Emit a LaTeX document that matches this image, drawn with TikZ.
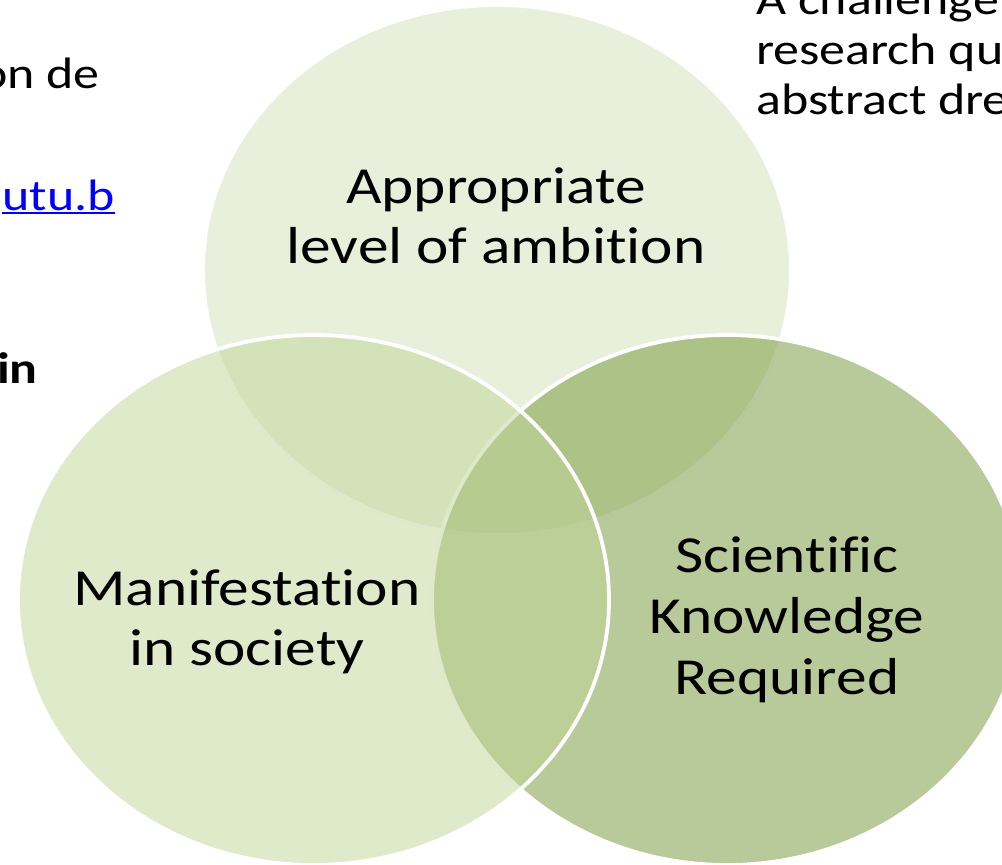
\documentclass[tikz,border=0pt]{standalone}
\usepackage{fontspec}
\setmainfont{Carlito}[FakeStretch=1.18, Ligatures={NoCommon}]
\definecolor{ctop}{RGB}{209,225,185}
\definecolor{cleft}{RGB}{191,213,151}
\definecolor{cright}{RGB}{113,149,51}
\definecolor{linkblue}{RGB}{0,0,255}
\begin{document}
\begin{tikzpicture}[x=1pt,y=-1pt,
  venn/.style={draw=white, line width=3.8pt, fill opacity=0.5, draw opacity=1},
  lbl/.style={inner sep=0pt, anchor=base, font=\fontsize{52}{60}\selectfont},
  side/.style={inner sep=0pt, font=\fontsize{44}{50}\selectfont}]
\useasboundingbox (0,0) rectangle (1002,865);
\clip (0,0) rectangle (1002,865);
% circles: top, right, left (drawing order)
\draw[venn, fill=ctop] (497,270) ellipse [x radius=294, y radius=265];
\draw[venn, fill=cright] (727,600) ellipse [x radius=295, y radius=265];
\draw[venn, fill=cleft] (313.5,600) ellipse [x radius=295.5, y radius=265];
% circle labels
\node[lbl] (top1) at (496,203) {Appropriate};
\node[lbl] (top2) at (496,263) {level of ambition};
\node[lbl] (left1) at (247,605) {Manifestation};
\node[lbl] (left2) at (247,665) {in society};
\node[lbl] (right1) at (787,572) {Scientific};
\node[lbl] (right2) at (787,633) {Knowledge};
\node[lbl] (right3) at (787,694) {Required};
% background texts, cut at the edges
\node[side, anchor=base east] (bg1) at (100,88) {ón de};
\node[side, anchor=base east, text=linkblue] (bg2) at (115,210) {utu.b};
\draw[linkblue, line width=2.6pt] ([yshift=-3pt]bg2.base west) -- ([yshift=-3pt]bg2.base east);
\node[side, anchor=base east, font=\fontsize{44}{50}\selectfont\bfseries] (bg3) at (38,383) {in};
\node[side, anchor=base west] (tr1) at (756,14) {A challenge};
\node[side, anchor=base west] (tr2) at (756,64) {research qu};
\node[side, anchor=base west] (tr3) at (756,114) {abstract dre};
\end{tikzpicture}
\end{document}
